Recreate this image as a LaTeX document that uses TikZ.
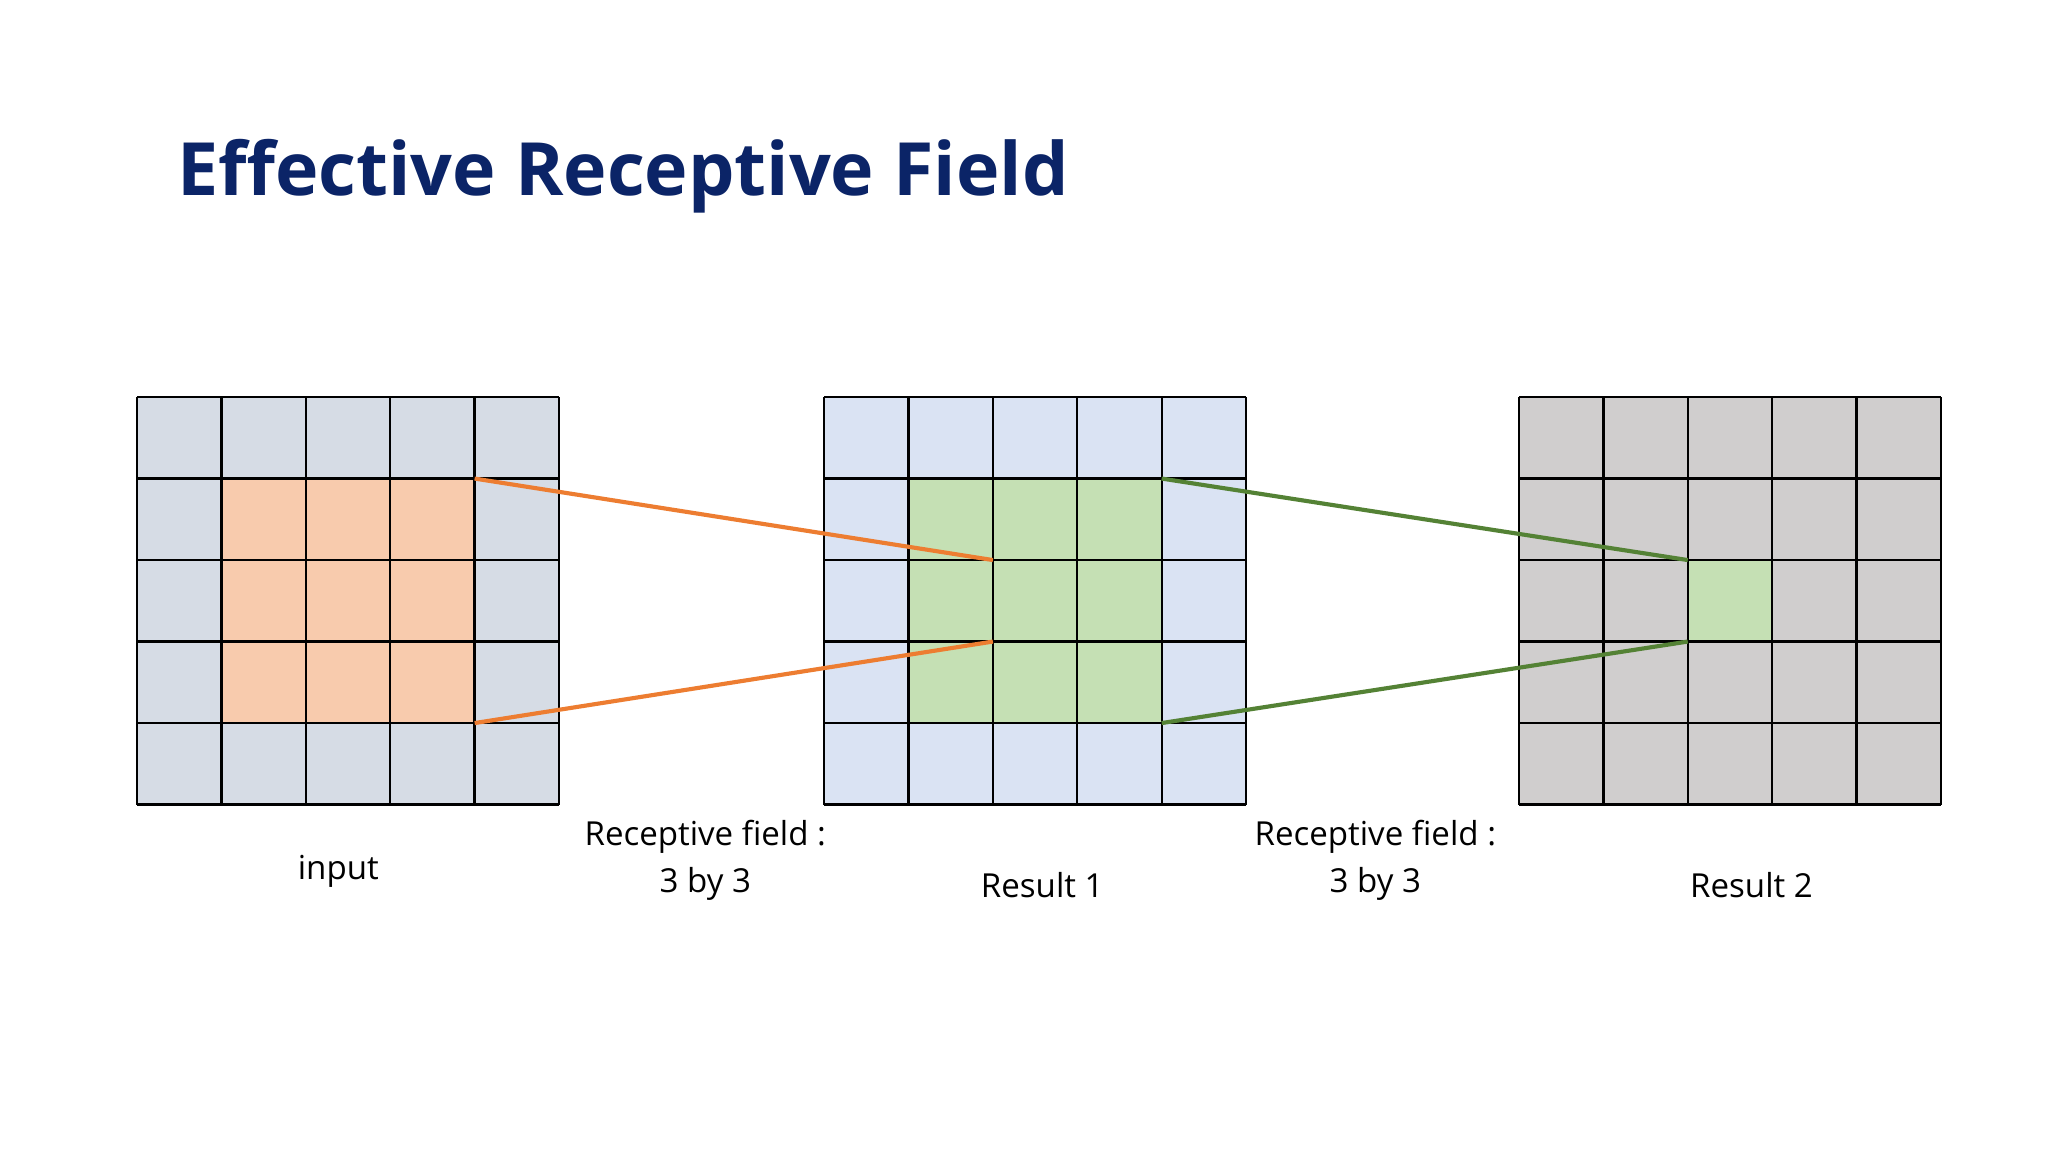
\documentclass[tikz,border=0pt]{standalone}
\usepackage{fontspec}
\setmainfont{Open Sans}
\definecolor{navy}{HTML}{0B2467}
\definecolor{inbg}{HTML}{D6DCE5}
\definecolor{rbg}{HTML}{DAE3F3}
\definecolor{gbg}{HTML}{D0CECE}
\definecolor{org}{HTML}{F8CBAD}
\definecolor{grn}{HTML}{C5E0B4}
\definecolor{oline}{HTML}{ED7D31}
\definecolor{gline}{HTML}{548235}
\begin{document}
\begin{tikzpicture}[x=0.01cm,y=-0.01cm,
  lbl/.style={font=\fontsize{7.2}{10.2}\selectfont,align=center,text=black},
  gridl/.style={draw=black,line width=0.5pt}]
\useasboundingbox (0,0) rectangle (1568,882);
\fill[white] (0,0) rectangle (1568,882);
\node[anchor=base west,inner sep=0,text=navy,font=\fontsize{16}{20}\selectfont\bfseries] (title) at (135,150) {Effective Receptive Field};
\def\cw{64.6}\def\ch{62.4}
\foreach \xo/\bg in {105/inbg,631/rbg,1163/gbg}{
  \fill[\bg] (\xo,304) rectangle ++(323,312);
}
\fill[org] (105+\cw,304+\ch) rectangle ++(3*\cw,3*\ch);
\fill[grn] (631+\cw,304+\ch) rectangle ++(3*\cw,3*\ch);
\fill[grn] (1163+2*\cw,304+2*\ch) rectangle ++(\cw,\ch);
\foreach \xo in {105,631,1163}{
  \foreach \i in {0,...,5}{
    \draw[gridl] (\xo+\i*\cw,304) -- (\xo+\i*\cw,616);
    \draw[gridl] (\xo,304+\i*\ch) -- (\xo+323,304+\i*\ch);
  }
}
\coordinate (a1) at (105+4*\cw,304+\ch);
\coordinate (a2) at (105+4*\cw,304+4*\ch);
\coordinate (b1) at (631+2*\cw,304+2*\ch);
\coordinate (b2) at (631+2*\cw,304+3*\ch);
\coordinate (c1) at (631+4*\cw,304+\ch);
\coordinate (c2) at (631+4*\cw,304+4*\ch);
\coordinate (d1) at (1163+2*\cw,304+2*\ch);
\coordinate (d2) at (1163+2*\cw,304+3*\ch);
\draw[oline,line width=0.9pt] (a1) -- (b1) (a2) -- (b2);
\draw[gline,line width=0.9pt] (c1) -- (d1) (c2) -- (d2);
\node[lbl] (l1) at (259,667) {input};
\node[lbl] (l2) at (540,659) {Receptive field :\\3 by 3};
\node[lbl] (l3) at (798,678) {Result 1};
\node[lbl] (l4) at (1053,659) {Receptive field :\\3 by 3};
\node[lbl] (l5) at (1341,678) {Result 2};
\end{tikzpicture}
\end{document}
